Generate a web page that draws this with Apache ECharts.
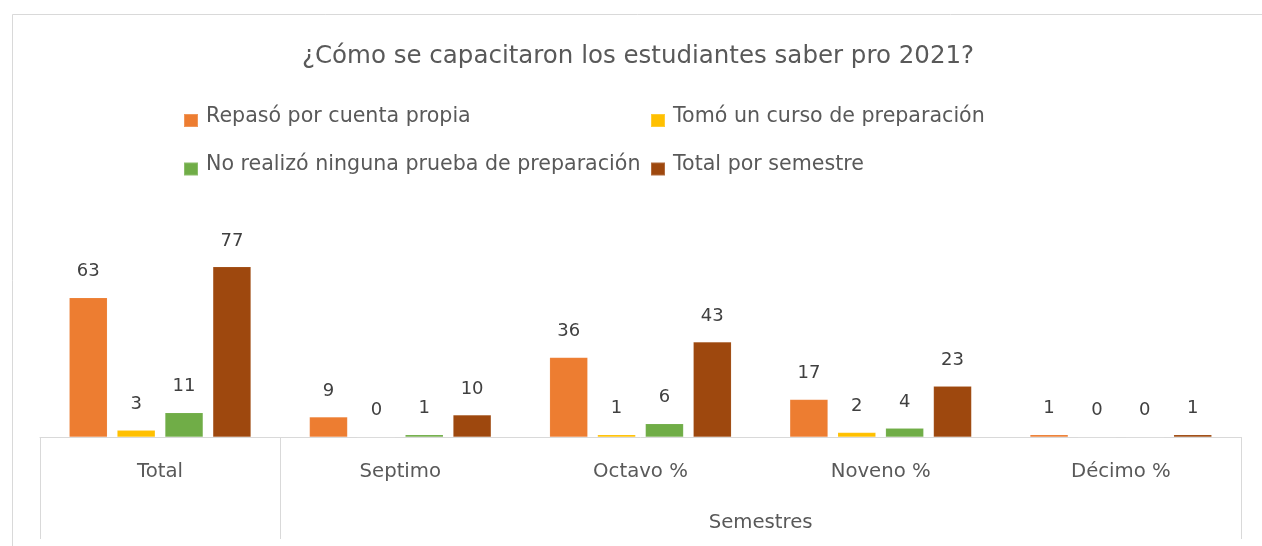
<!DOCTYPE html>
<html>
<head>
<meta charset="utf-8">
<script src="https://cdn.jsdelivr.net/npm/echarts@6/dist/echarts.min.js"></script>
<style>
html,body{margin:0;padding:0;background:#fff;}
#chart{width:1262px;height:546px;}
</style>
</head>
<body>
<div id="chart"></div>
<script>
const titleText = '¿Cómo se capacitaron los estudiantes saber pro 2021?';
const categories = ['Total', 'Septimo', 'Octavo %', 'Noveno %', 'Décimo %'];
const seriesNames = ['Repasó por cuenta propia', 'Tomó un curso de preparación', 'No realizó ninguna prueba de preparación', 'Total por semestre'];
const repaso = [63, 9, 36, 17, 1];
const curso = [3, 0, 1, 2, 0];
const ninguna = [11, 1, 6, 4, 0];
const totalSem = [77, 10, 43, 23, 1];
const groupLabel = 'Semestres';
const groupStart = 1; // first category index in the group
const groupEnd = categories.length; // boundary after last category
const colors = ['#ED7D31', '#FFC000', '#70AD47', '#9E480E'];
const seriesData = [repaso, curso, ninguna, totalSem];

const FONT = '"DejaVu Sans", sans-serif';
const chart = echarts.init(document.getElementById('chart'), null, {renderer: 'canvas'});

// square marker sitting low (baseline aligned), with an invisible speck to extend the box upward
const legendIcon = 'path://M0,8 L14,8 L14,21 L0,21 Z M0,0 L0.01,0 L0.01,0.01 L0,0.01 Z';
const legendPos = [[178, 100], [645, 100], [178, 148.5], [645, 148.5]];
const legends = seriesNames.map((n, i) => ({
  data: [n],
  left: legendPos[i][0], top: legendPos[i][1],
  itemWidth: 14, itemHeight: 21, itemGap: 0,
  icon: legendIcon,
  selectedMode: false,
  textStyle: {fontFamily: FONT, fontSize: 20.6, color: '#595959', padding: [0, 0, 0, 3]}
}));

const option = {
  backgroundColor: '#ffffff',
  animation: false,
  title: {
    text: titleText, left: 297, top: 39,
    textStyle: {fontFamily: FONT, fontSize: 24.5, fontWeight: 'normal', color: '#595959'}
  },
  legend: legends,
  graphic: [{
    type: 'rect', shape: {x: 12.5, y: 14.5, width: 1300, height: 600},
    style: {fill: 'none', stroke: '#d9d9d9', lineWidth: 1}, silent: true, z: -1
  }],
  grid: {left: 40, right: 21, top: 216, bottom: 109},
  xAxis: [{
    type: 'category', data: categories,
    axisLine: {show: true, lineStyle: {color: '#d9d9d9', width: 1}},
    axisTick: {show: true, length: 102, interval: (idx) => idx === 0 || idx === groupStart,
      lineStyle: {color: '#d9d9d9', width: 1}},
    axisLabel: {fontFamily: FONT, fontSize: 19.7, color: '#595959', margin: 25, interval: 0}
  }, {
    type: 'value', position: 'bottom', min: 0, max: groupEnd, interval: 1,
    axisLine: {show: false}, axisTick: {show: false}, splitLine: {show: false},
    axisLabel: {fontFamily: FONT, fontSize: 19.7, color: '#595959', margin: 76,
      showMinLabel: true, showMaxLabel: true,
      formatter: (v) => v === (groupStart + groupEnd) / 2 ? groupLabel : ''}
  }],
  yAxis: {
    type: 'value', min: 0, max: 100, show: false, splitLine: {show: false}
  },
  series: seriesNames.map((n, i) => ({
    name: n, type: 'bar', data: seriesData[i],
    xAxisIndex: 0,
    barWidth: 38, barGap: '26%',
    itemStyle: {color: colors[i], borderColor: 'rgba(255,255,255,0.2)', borderWidth: 0.5},
    label: {show: true, position: 'top', distance: 17,
      fontFamily: FONT, fontSize: 18, color: '#404040'}
  }))
};
chart.setOption(option);
</script>
</body>
</html>
